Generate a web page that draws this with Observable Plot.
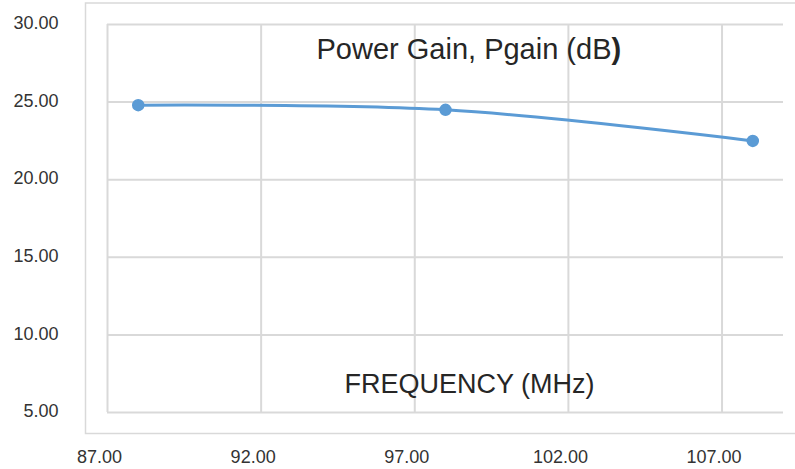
<!DOCTYPE html>
<html>
<head>
<meta charset="utf-8">
<script src="https://cdn.jsdelivr.net/npm/d3@7"></script>
<script src="https://cdn.jsdelivr.net/npm/@observablehq/plot@0.6"></script>
<style>
  html, body { margin: 0; padding: 0; background: #fff; }
  #chart svg { display: block; }
</style>
</head>
<body>
<div id="chart"></div>
<script>
const frequency = [88, 98, 108];
const powerGain = [24.8, 24.5, 22.5];
const xTicks = [87, 92, 97, 102, 107];
const yTicks = [5, 10, 15, 20, 25, 30];
const titleText = "Power Gain, Pgain (dB";
const titleClose = ")";
const xLabel = "FREQUENCY (MHz)";

const data = frequency.map((f, i) => ({f, g: powerGain[i]}));
const grid = "#d9d9d9";
const blue = "#5b9bd5";
const font = "Liberation Sans, Arial, Helvetica, sans-serif";

const chart = Plot.plot({
  width: 795,
  height: 469,
  marginLeft: 107,
  marginRight: 12,
  marginTop: 24,
  marginBottom: 57,
  style: {fontFamily: font, fontSize: "18px", color: "#333", background: "#fff"},
  x: {domain: [87, 109], ticks: xTicks, tickFormat: d => d.toFixed(2)},
  y: {domain: [5, 30], ticks: yTicks, tickFormat: d => d.toFixed(2)},
  marks: [
    Plot.frame({stroke: grid, strokeWidth: 1.5, insetLeft: -22, insetTop: -21.5, insetBottom: -21, insetRight: -30}),
    Plot.gridX(xTicks, {stroke: grid, strokeOpacity: 1, strokeWidth: 2}),
    Plot.gridY(yTicks, {stroke: grid, strokeOpacity: 1, strokeWidth: 2, x1: 87, x2: 109}),
    Plot.axisX(xTicks, {tickSize: 0, tickPadding: 38, dx: -8, fill: "#333", fontSize: 18, tickFormat: d => d.toFixed(2), label: null}),
    Plot.axisY(yTicks, {tickSize: 0, tickPadding: 49, dy: -1, fill: "#333", fontSize: 18, tickFormat: d => d.toFixed(2), label: null}),
    Plot.line(data, {x: "f", y: "g", curve: "catmull-rom", stroke: blue, strokeWidth: 3}),
    Plot.dot(data, {x: "f", y: "g", r: 5.5, fill: blue, stroke: blue}),
    Plot.text([titleText], {frameAnchor: "top", lineAnchor: "top", dx: 166, dy: 13.5, textAnchor: "end", text: d => d, fontSize: 29, fill: "#262626"}),
    Plot.text([titleClose], {frameAnchor: "top", lineAnchor: "top", dx: 166, dy: 13.5, textAnchor: "start", text: d => d, fontSize: 29, fontWeight: "bold", fill: "#262626"}),
    Plot.text([xLabel], {frameAnchor: "bottom", lineAnchor: "top", dx: 24, dy: -38.5, text: d => d, fontSize: 27, fill: "#262626"})
  ]
});
document.getElementById("chart").appendChild(chart);
</script>
</body>
</html>
